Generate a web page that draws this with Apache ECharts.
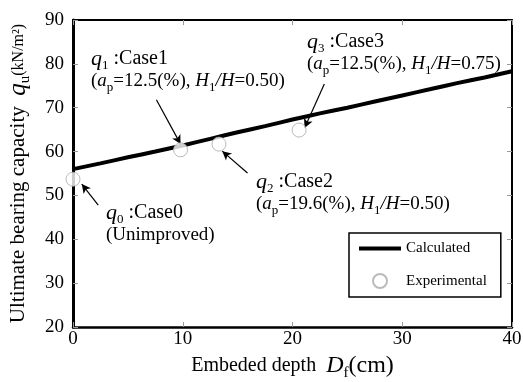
<!DOCTYPE html>
<html><head><meta charset="utf-8">
<script src="https://cdn.jsdelivr.net/npm/echarts@6/dist/echarts.min.js"></script>
<style>html,body{margin:0;padding:0;background:#fff}#c{width:523px;height:382px}</style>
</head><body><div id="c"></div>
<script>
// Calculated curve
const calcDepth = [0, 2.5, 5, 7.5, 10, 12.5, 15, 17.5, 20, 22.5, 25, 27.5, 30, 32.5, 35, 37.5, 40];
const calcQu    = [56.0, 57.3, 58.7, 60.0, 61.4, 62.9, 64.4, 65.8, 67.3, 68.7, 70.0, 71.4, 72.8, 74.2, 75.6, 76.9, 78.3];
// Experimental points
const expNames = ['Case0', 'Case1', 'Case2', 'Case3'];
const expDepth = [0, 9.8, 13.3, 20.6];
const expQu    = [53.7, 60.4, 61.7, 64.9];
// Annotation arrows [from, to] in data units
const arrowFrom = [[2.3, 47.8], [7.6, 71.8], [15.9, 55.1], [22.9, 75.4]];
const arrowTo   = [[0.8, 52.6], [9.8, 61.7], [13.6, 60.1], [21.1, 65.4]];
const xTicks = [0, 10, 20, 30, 40];
const yTicks = [20, 30, 40, 50, 60, 70, 80, 90];

const SERIF = '"Liberation Serif","Times New Roman",serif';
const chart = echarts.init(document.getElementById('c'));

const richAnno = {
  it: {fontFamily: SERIF, fontStyle: 'italic', fontSize: 22, color: '#000'},
  it2: {fontFamily: SERIF, fontStyle: 'italic', fontSize: 19, color: '#000'},
  sub: {fontFamily: SERIF, fontSize: 13, color: '#000', padding: [13, 0, 0, 0]},
  n: {fontFamily: SERIF, fontSize: 19, color: '#000'},
  n1: {fontFamily: SERIF, fontSize: 20, color: '#000'}
};
function anno(x, y, idx, line2) {
  return {
    type: 'text', left: x, top: y, z: 100,
    style: {
      text: '{it|q}{sub|' + idx + '}{n1| :Case' + idx + '}\n' + line2,
      rich: richAnno, lineHeight: 22, fill: '#000'
    }
  };
}
function params(ap, h) {
  return '{n|(}{it2|a}{sub|p}{n|=' + ap + '(%), }{it2|H}{sub|1}{it2|/H}{n|=' + h + ')}';
}

const axisLineStyle = {color: '#000', width: 2};
const tickStyle = {show: true, inside: true, length: 5, lineStyle: {color: '#999', width: 1}};

chart.setOption({
  animation: false,
  backgroundColor: '#fff',
  grid: {left: 73, right: 11, top: 20, bottom: 55, outerBoundsMode: 'none', containLabel: false},
  legend: {
    left: 349, top: 233,
    orient: 'vertical',
    padding: [8, 14, 8, 8],
    itemWidth: 42, itemHeight: 14, itemGap: 17,
    borderColor: '#000', borderWidth: 1.5,
    textStyle: {fontFamily: SERIF, fontSize: 15, color: '#000'},
    data: [
      {name: 'Calculated', itemStyle: {color: 'rgba(0,0,0,0)', borderColor: 'rgba(0,0,0,0)', borderWidth: 0},
       lineStyle: {color: '#000', width: 4}},
      {name: 'Experimental'}
    ]
  },
  xAxis: [{
    type: 'value', min: 0, max: 40, interval: 10, position: 'bottom',
    axisLine: {show: true, onZero: false, lineStyle: {color: '#000', width: 2.5}},
    axisTick: tickStyle, splitLine: {show: false},
    axisLabel: {fontFamily: SERIF, fontSize: 19, color: '#000', margin: 3},
    name: '{a|Embeded depth  }{d|D}{s|f}{c|(cm)}',
    nameLocation: 'middle', nameGap: 23,
    nameTextStyle: {rich: {
      a: {fontFamily: SERIF, fontSize: 20, color: '#000'},
      d: {fontFamily: SERIF, fontSize: 24, fontStyle: 'italic', color: '#000'},
      s: {fontFamily: SERIF, fontSize: 15, color: '#000', padding: [14, 0, 0, 0]},
      c: {fontFamily: SERIF, fontSize: 24, color: '#000'}
    }}
  }, {
    type: 'value', min: 0, max: 40, interval: 10, position: 'top',
    axisLine: {show: true, onZero: false, lineStyle: axisLineStyle},
    axisTick: tickStyle, axisLabel: {show: false}, splitLine: {show: false}
  }],
  yAxis: [{
    type: 'value', min: 20, max: 90, interval: 10, position: 'left',
    axisLine: {show: true, onZero: false, lineStyle: {color: '#000', width: 3}},
    axisTick: tickStyle, splitLine: {show: false},
    axisLabel: {fontFamily: SERIF, fontSize: 19, color: '#000', margin: 9},
    name: '{a|Ultimate bearing capacity  }{q|q}{s|u}{k|(kN/m²)}',
    nameLocation: 'middle', nameGap: 40, nameRotate: 90,
    nameTextStyle: {rich: {
      a: {fontFamily: SERIF, fontSize: 21, color: '#000'},
      q: {fontFamily: SERIF, fontSize: 25, fontStyle: 'italic', color: '#000'},
      s: {fontFamily: SERIF, fontSize: 15, color: '#000', padding: [14, 0, 0, 0]},
      k: {fontFamily: SERIF, fontSize: 16, color: '#000'}
    }}
  }, {
    type: 'value', min: 20, max: 90, interval: 10, position: 'right',
    axisLine: {show: true, onZero: false, lineStyle: axisLineStyle},
    axisTick: tickStyle, axisLabel: {show: false}, splitLine: {show: false}
  }],
  series: [{
    name: 'Calculated', type: 'line', smooth: 0.2,
    data: calcDepth.map((d, i) => [d, calcQu[i]]),
    showSymbol: false, symbol: 'none',
    lineStyle: {color: '#000', width: 4}, itemStyle: {color: '#000'},
    z: 2
  }, {
    name: 'Arrows', type: 'line', data: [], z: 3,
    markLine: {
      silent: true, symbol: ['none', 'arrow'], symbolSize: [7, 9],
      label: {show: false},
      lineStyle: {color: '#000', width: 1.2, type: 'solid'},
      data: arrowFrom.map((f, i) => [{coord: f}, {coord: arrowTo[i]}])
    }
  }, {
    name: 'Experimental', type: 'scatter', symbol: 'circle', symbolSize: 14,
    data: expDepth.map((d, i) => ({value: [d, expQu[i]], name: expNames[i]})),
    itemStyle: {color: '#fff', borderColor: '#aaa', borderWidth: 1},
    z: 5
  }],
  graphic: [
    anno(91, 48, 1, params('12.5', '0.50')),
    anno(307, 31, 3, params('12.5', '0.75')),
    anno(256, 171, 2, params('19.6', '0.50')),
    anno(106, 202, 0, '{n|(Unimproved)}')
  ]
});
</script></body></html>
